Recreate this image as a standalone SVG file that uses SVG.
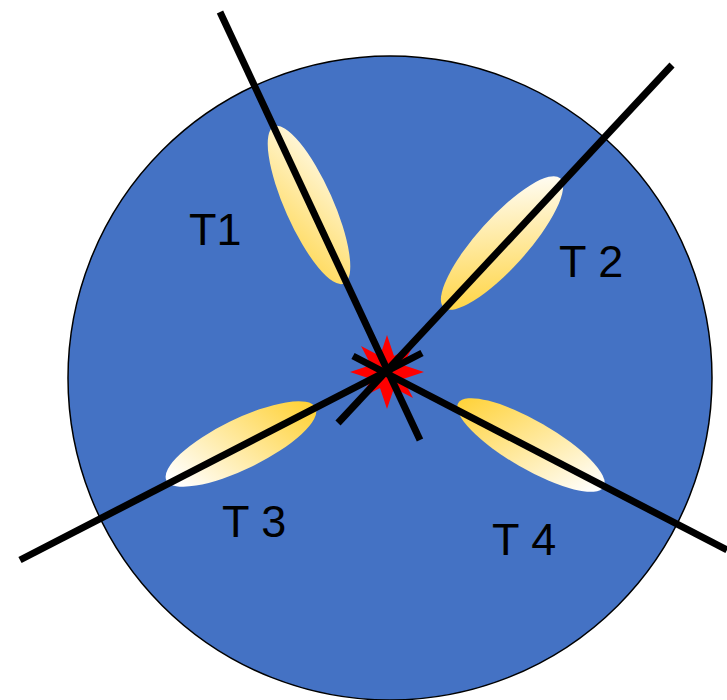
<svg xmlns="http://www.w3.org/2000/svg" width="727" height="700" viewBox="0 0 727 700">
  <style>
    .ray { stroke: #000; stroke-width: 7; stroke-linecap: butt; fill: none; }
    .lbl { font-family: "Liberation Sans", "Noto Sans CJK SC", sans-serif; font-size: 45px; fill: #000; }
  </style>
  <defs>
    <linearGradient id="g1" gradientUnits="userSpaceOnUse" x1="278" y1="132" x2="340" y2="278">
      <stop offset="0.05" stop-color="#FFFFFF"/>
      <stop offset="1" stop-color="#FFD030"/>
    </linearGradient>
    <linearGradient id="g2" gradientUnits="userSpaceOnUse" x1="448" y1="302" x2="556" y2="184">
      <stop offset="0" stop-color="#FFD030"/>
      <stop offset="0.95" stop-color="#FFFFFF"/>
    </linearGradient>
    <linearGradient id="g3" gradientUnits="userSpaceOnUse" x1="170" y1="478" x2="312" y2="410">
      <stop offset="0.05" stop-color="#FFFFFF"/>
      <stop offset="1" stop-color="#FFD030"/>
    </linearGradient>
    <linearGradient id="g4" gradientUnits="userSpaceOnUse" x1="461" y1="404" x2="600" y2="485">
      <stop offset="0" stop-color="#FFD030"/>
      <stop offset="0.95" stop-color="#FFFFFF"/>
    </linearGradient>
  </defs>

  <g id="disk">
    <circle cx="390" cy="378" r="322" fill="#4472C4" stroke="#000" stroke-width="1.5"/>
  </g>

  <g id="T1-lobe">
    <ellipse cx="309" cy="205" rx="86" ry="24" transform="rotate(66 309 205)" fill="url(#g1)"/>
  </g>
  <g id="T2-lobe">
    <ellipse cx="502" cy="243" rx="87" ry="25" transform="rotate(-48 502 243)" fill="url(#g2)"/>
  </g>
  <g id="T3-lobe">
    <ellipse cx="241" cy="444" rx="83" ry="25" transform="rotate(-26 241 444)" fill="url(#g3)"/>
  </g>
  <g id="T4-lobe">
    <ellipse cx="531" cy="445" rx="84" ry="24" transform="rotate(30 531 445)" fill="url(#g4)"/>
  </g>

  <g id="source">
    <polygon fill="#FF0000" points="387,335 394,356 413,346 403,365 424,372 403,379 413,398 394,388 387,409 380,388 361,398 371,379 350,372 371,365 361,346 380,356"/>
  </g>

  <g id="connectors">
    <line class="ray" x1="220" y1="12" x2="420" y2="440"/>
    <line class="ray" x1="672" y1="65" x2="338" y2="423"/>
    <line class="ray" x1="20" y1="560" x2="422" y2="353"/>
    <line class="ray" x1="353" y1="356" x2="727" y2="550"/>
  </g>

  <g id="T1"><text class="lbl" x="189" y="245">T1</text></g>
  <g id="T2"><text class="lbl" x="559" y="277">T 2</text></g>
  <g id="T3"><text class="lbl" x="222" y="537">T 3</text></g>
  <g id="T4"><text class="lbl" x="492" y="555">T 4</text></g>
</svg>
